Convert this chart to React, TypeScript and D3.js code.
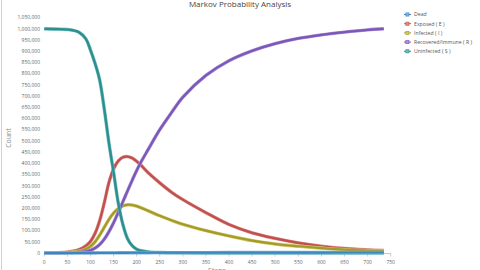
import React from "react";
import * as d3 from "d3";

const days = [0, 25, 50, 75, 90, 100, 110, 120, 130, 140, 150, 160, 170, 180, 190, 200, 210, 225, 250, 275, 300, 350, 400, 450, 500, 550, 600, 650, 700, 735];

const dead = [0, 0, 0, 0, 100, 200, 300, 400, 500, 600, 700, 800, 900, 1000, 1100, 1200, 1300, 1400, 1500, 1600, 1700, 1800, 1900, 2000, 2000, 2100, 2100, 2200, 2200, 2200];
const exposed = [0, 1000, 4000, 15000, 32000, 52000, 88000, 145000, 225000, 315000, 375000, 410000, 427000, 430000, 424000, 409000, 390000, 358000, 313000, 272000, 238000, 180000, 127000, 90000, 65000, 45000, 30000, 20000, 14000, 11000];
const infected = [0, 500, 2500, 8000, 18000, 30000, 50000, 80000, 115000, 150000, 178000, 198000, 210000, 215000, 214000, 209000, 201000, 188000, 166000, 146000, 128000, 100000, 76000, 55000, 40000, 30000, 22000, 15000, 11000, 9000];
const recovered = [0, 0, 500, 3000, 6000, 12000, 22000, 38000, 62000, 95000, 135000, 180000, 228000, 276000, 323000, 368000, 408000, 462000, 550000, 625000, 695000, 792000, 858000, 902000, 934000, 957000, 973000, 985000, 995000, 1000000];
const uninfected = [1000000, 999000, 997000, 985000, 955000, 905000, 845000, 770000, 640000, 490000, 360000, 225000, 128000, 65000, 33000, 17000, 10000, 5000, 2000, 1000, 500, 0, 0, 0, 0, 0, 0, 0, 0, 0];

const seriesNames = ["Dead", "Exposed ( E )", "Infected ( I )", "Recovered/Immune ( R )", "Uninfected ( S )"];
const seriesData = [dead, exposed, infected, recovered, uninfected];
const colors = ["#3f86bf", "#c0504d", "#a39a28", "#7b58b8", "#2e8d8d"];
const lightColors = ["#7fb2da", "#dc8c8a", "#cfc86a", "#a98fd6", "#6cbcbc"];

const yTicks = d3.range(0, 1050001, 50000);
const xTicks = d3.range(0, 751, 50);

export default function App() {
  const W = 480, H = 270;
  const x = d3.scaleLinear().domain([0, 750]).range([44.3, 390.7]);
  const y = d3.scaleLinear().domain([0, 1050000]).range([253, 17.6]);
  const fmt = d3.format(",");
  const line = d3
    .line<number>()
    .x((_, i) => x(days[i]))
    .y((v) => y(v))
    .curve(d3.curveCatmullRom.alpha(0.5));
  const order = [1, 2, 3, 4, 0];
  return (
    <svg width={W} height={H} style={{ position: "absolute", left: 0, top: 0, background: "#fff" }} fontFamily="'Open Sans', sans-serif">
      <rect x={0} y={0} width={W} height={H} fill="#fff" />
      <line x1={1.5} x2={1.5} y1={0} y2={H} stroke="#d0d0d0" strokeWidth={1} />
      <text x={240} y={6.5} textAnchor="middle" fontSize={8} fill="#444">Markov Probability Analysis</text>
      {yTicks.map((t) => (
        <text key={t} x={40} y={y(t) + 1.8} textAnchor="end" fontSize={5} fill="#666">{fmt(t)}</text>
      ))}
      <text transform={`translate(11,138) rotate(-90)`} textAnchor="middle" fontSize={7} fill="#888">Count</text>
      <line x1={x(0)} x2={x(750)} y1={253.5} y2={253.5} stroke="#bbb" strokeWidth={0.8} />
      {xTicks.map((t) => (
        <g key={t}>
          <line x1={x(t)} x2={x(t)} y1={253.5} y2={256.5} stroke="#bbb" strokeWidth={0.8} />
          <text x={x(t)} y={263.5} textAnchor="middle" fontSize={5} fill="#666">{t}</text>
        </g>
      ))}
      <text x={217} y={272.5} textAnchor="middle" fontSize={7} fill="#888">Steps</text>
      {order.map((k) => (
        <g key={k}>
          <path d={line(seriesData[k]) || ""} fill="none" stroke={lightColors[k]} strokeWidth={3.4} strokeLinejoin="round" />
          <path d={line(seriesData[k]) || ""} fill="none" stroke={colors[k]} strokeWidth={2.2} strokeLinejoin="round" />
        </g>
      ))}
      {seriesNames.map((n, i) => {
        const ly = 14.5 + i * 9.2;
        return (
          <g key={n}>
            <line x1={404} x2={411} y1={ly} y2={ly} stroke={colors[i]} strokeWidth={1} />
            <rect x={405.8} y={ly - 1.6} width={3.2} height={3.2} fill={lightColors[i]} stroke={colors[i]} strokeWidth={0.6} />
            <text x={414} y={ly + 1.8} fontSize={5.2} fill="#555">{n}</text>
          </g>
        );
      })}
    </svg>
  );
}
